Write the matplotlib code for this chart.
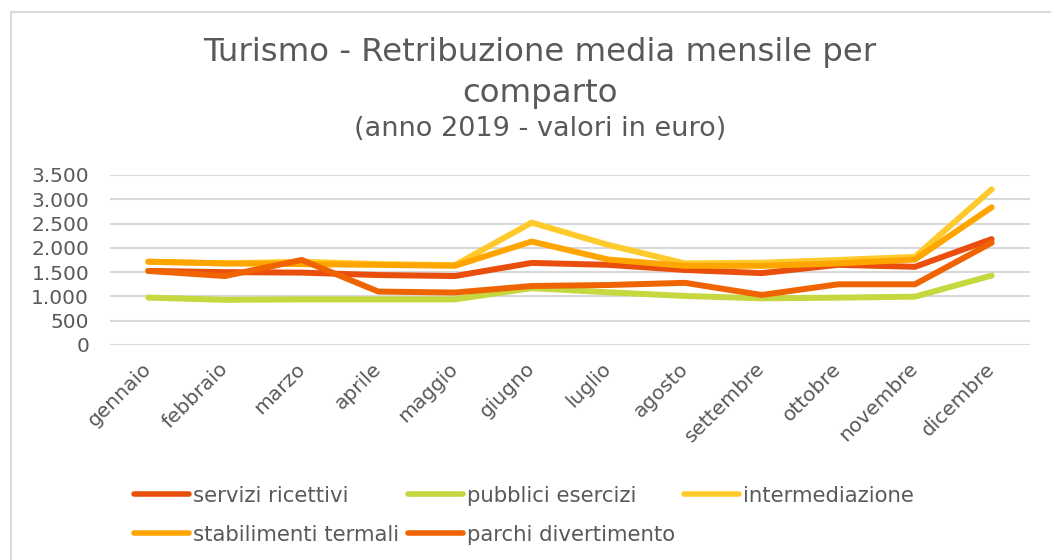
import matplotlib.pyplot as plt
from matplotlib.patches import Rectangle
from matplotlib.ticker import FuncFormatter

plt.rcParams["font.family"] = ["DejaVu Sans"]

mesi = ["gennaio", "febbraio", "marzo", "aprile", "maggio", "giugno",
        "luglio", "agosto", "settembre", "ottobre", "novembre", "dicembre"]

servizi_ricettivi = [1525, 1500, 1490, 1440, 1420, 1690, 1650, 1545, 1480, 1650, 1610, 2180]
pubblici_esercizi = [975, 930, 940, 940, 940, 1170, 1085, 1010, 960, 975, 995, 1430]
intermediazione = [1715, 1680, 1715, 1665, 1645, 2520, 2060, 1680, 1695, 1750, 1815, 3205]
stabilimenti_termali = [1715, 1680, 1665, 1650, 1630, 2130, 1760, 1630, 1630, 1680, 1760, 2835]
parchi_divertimento = [1525, 1420, 1750, 1100, 1080, 1215, 1235, 1280, 1030, 1250, 1250, 2105]

serie = [
    ("servizi ricettivi", servizi_ricettivi, "#E94E0C"),
    ("pubblici esercizi", pubblici_esercizi, "#C5D83F"),
    ("intermediazione", intermediazione, "#FFCA2C"),
    ("stabilimenti termali", stabilimenti_termali, "#FFA500"),
    ("parchi divertimento", parchi_divertimento, "#EF6400"),
]

GRIGIO = "#595959"

fig = plt.figure(figsize=(10.51, 5.6), dpi=100)
ax = fig.add_axes([110 / 1051, 1 - 345 / 560, 920 / 1051, 170 / 560])

# cornice del grafico
fig.patches.append(Rectangle((11 / 1051, -0.1), 1.2, 1 - 12 / 560 + 0.1,
                             transform=fig.transFigure, fill=False,
                             edgecolor="#D9D9D9", linewidth=1.5))

x = list(range(len(mesi)))
linee = {}
for nome, valori, colore in serie:
    linee[nome], = ax.plot(x, valori, color=colore, linewidth=4.3,
                           solid_capstyle="round", solid_joinstyle="round",
                           label=nome)

ax.set_xlim(-0.5, len(mesi) - 0.5)
ax.set_ylim(0, 3500)
ax.set_yticks(range(0, 3501, 500))
ax.yaxis.set_major_formatter(FuncFormatter(lambda v, _: f"{int(v):,}".replace(",", ".")))
ax.grid(axis="y", color="#D9D9D9", linewidth=1.5)
ax.set_axisbelow(True)
for s in ax.spines.values():
    s.set_visible(False)
ax.tick_params(length=0, labelsize=14.5, labelcolor=GRIGIO)
ax.tick_params(axis="y", pad=15)
ax.set_xticks(x)
ax.set_xticklabels(mesi, rotation=45, ha="right", va="center",
                   rotation_mode="anchor")
ax.tick_params(axis="x", pad=15)

fig.text(0.514, 1 - 73 / 560, "Turismo - Retribuzione media mensile per\ncomparto",
         ha="center", va="center", fontsize=23.3, color=GRIGIO, linespacing=1.38)
fig.text(0.514, 1 - 129 / 560, "(anno 2019 - valori in euro)",
         ha="center", va="center", fontsize=19.5, color=GRIGIO)

# ordine per colonne: la legenda si legge per righe
ordine = ["servizi ricettivi", "stabilimenti termali", "pubblici esercizi",
          "parchi divertimento", "intermediazione"]
leg = fig.legend([linee[n] for n in ordine], ordine, ncol=3,
                 loc="upper left", bbox_to_anchor=(125 / 1051, 1 - 477 / 560),
                 frameon=False, fontsize=15.3, handlelength=2.6,
                 handletextpad=0.2, columnspacing=0.4, labelspacing=0.9,
                 borderaxespad=0)
for t in leg.get_texts():
    t.set_color(GRIGIO)
for h in leg.legend_handles:
    h.set_linewidth(4)

fig.savefig("out.png", dpi=100, facecolor="white")
